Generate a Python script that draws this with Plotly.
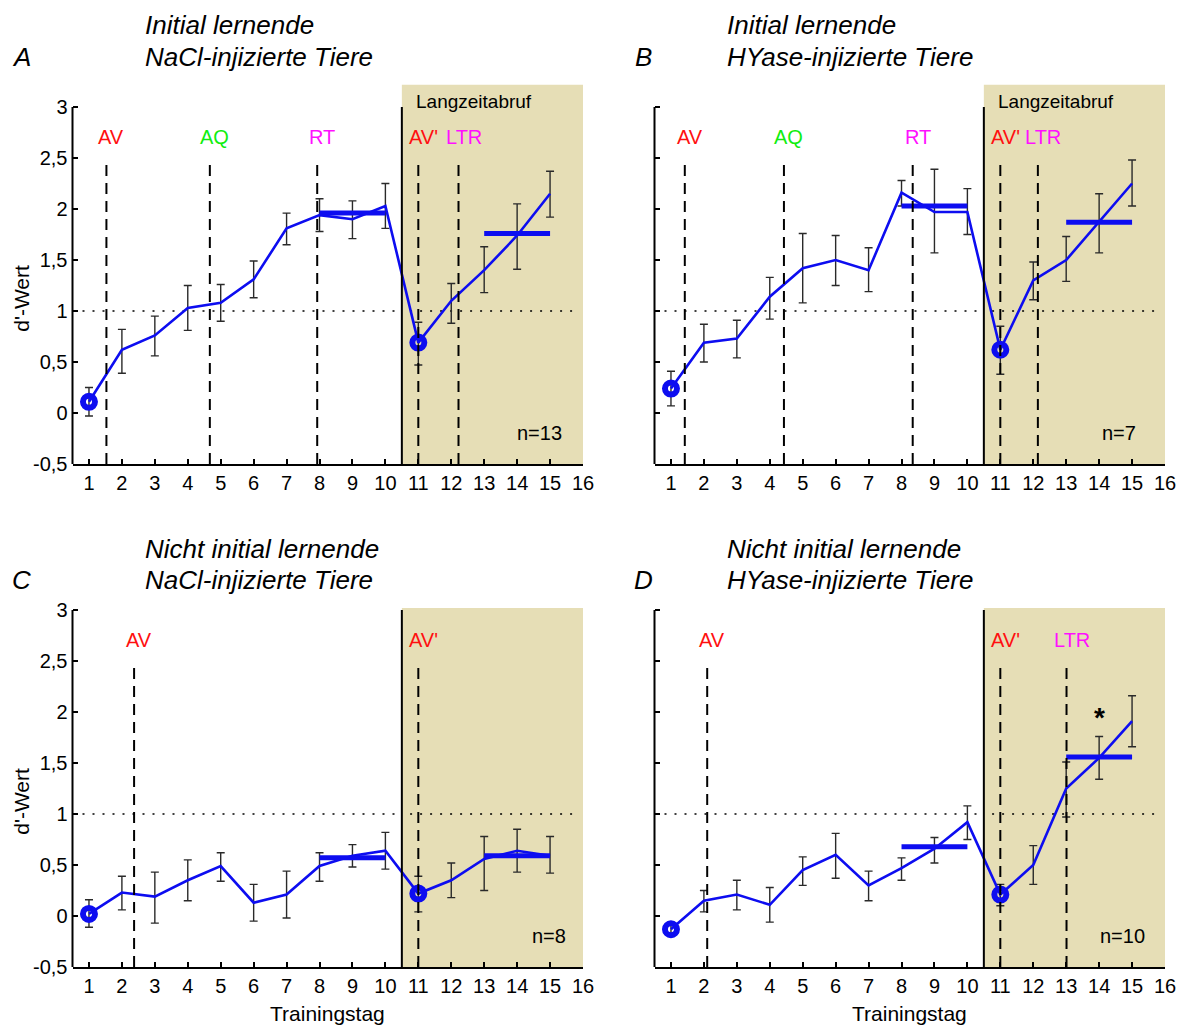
import plotly.graph_objects as go

# ---------------- data ----------------
days = list(range(1, 16))

A_mean = [0.11, 0.62, 0.76, 1.03, 1.08, 1.31, 1.81, 1.94, 1.90, 2.03, 0.69, 1.10, 1.40, 1.74, 2.15]
A_upper = [0.25, 0.82, 0.95, 1.25, 1.26, 1.49, 1.96, 2.10, 2.08, 2.25, 0.89, 1.27, 1.63, 2.05, 2.37]
A_lower = [-0.03, 0.39, 0.56, 0.81, 0.90, 1.13, 1.65, 1.78, 1.71, 1.81, 0.47, 0.88, 1.18, 1.41, 1.92]

B_mean = [0.24, 0.69, 0.73, 1.14, 1.42, 1.50, 1.40, 2.16, 1.97, 1.97, 0.62, 1.30, 1.50, 1.87, 2.25]
B_upper = [0.41, 0.87, 0.91, 1.33, 1.76, 1.74, 1.62, 2.28, 2.39, 2.20, 0.85, 1.48, 1.73, 2.15, 2.48]
B_lower = [0.07, 0.50, 0.54, 0.92, 1.08, 1.25, 1.19, 2.03, 1.57, 1.75, 0.38, 1.11, 1.29, 1.57, 2.03]

C_mean = [0.02, 0.23, 0.19, 0.35, 0.49, 0.13, 0.21, 0.49, 0.59, 0.64, 0.22, 0.35, 0.56, 0.64, 0.59]
C_upper = [0.16, 0.39, 0.43, 0.55, 0.62, 0.31, 0.44, 0.62, 0.70, 0.82, 0.39, 0.52, 0.78, 0.85, 0.78]
C_lower = [-0.11, 0.06, -0.07, 0.15, 0.34, -0.05, -0.02, 0.34, 0.48, 0.46, 0.04, 0.18, 0.25, 0.43, 0.42]

D_mean = [-0.13, 0.15, 0.21, 0.11, 0.45, 0.60, 0.30, 0.47, 0.66, 0.92, 0.21, 0.50, 1.25, 1.55, 1.91]
D_upper = [-0.08, 0.25, 0.35, 0.28, 0.58, 0.81, 0.44, 0.57, 0.77, 1.08, 0.31, 0.69, 1.51, 1.76, 2.16]
D_lower = [-0.18, 0.04, 0.06, -0.06, 0.30, 0.37, 0.15, 0.35, 0.52, 0.75, 0.10, 0.31, 0.97, 1.34, 1.66]

# mean of blocks (days 8-10 and 13-15)
block_days = [[8, 10], [13, 15]]
A_block = [1.96, 1.76]
B_block = [2.03, 1.87]
C_block = [0.57, 0.59]
D_block = [0.68, 1.56]

# highlighted days (circles)
circle_days = [1, 11]

# event markers (name, day)
A_events = [("AV", 1.53), ("AQ", 4.67), ("RT", 7.93), ("AV'", 11.0), ("LTR", 12.22)]
B_events = [("AV", 1.42), ("AQ", 4.43), ("RT", 8.34), ("AV'", 11.0), ("LTR", 12.14)]
C_events = [("AV", 2.37), ("AV'", 11.0)]
D_events = [("AV", 2.10), ("AV'", 11.0), ("LTR", 13.01)]

n_labels = ["n=13", "n=7", "n=8", "n=10"]
title1 = ["Initial lernende", "Initial lernende", "Nicht initial lernende", "Nicht initial lernende"]
title2 = ["NaCl-injizierte Tiere", "HYase-injizierte Tiere", "NaCl-injizierte Tiere", "HYase-injizierte Tiere"]
letters = ["A", "B", "C", "D"]

ytick_vals = [-0.5, 0, 0.5, 1, 1.5, 2, 2.5, 3]
ytick_text = ["-0,5", "0", "0,5", "1", "1,5", "2", "2,5", "3"]
xtick_vals = list(range(1, 17))

# ---------------- style ----------------
W, H = 1187, 1027
FONT = "Arial, Liberation Sans, sans-serif"
BLUE = "#0d0df0"
SHADE = "rgb(230,222,182)"
EVENT_COLORS = {"AV": "#ff1010", "AV'": "#ff1010", "AQ": "#10ee10", "RT": "#ff10ff", "LTR": "#ff10ff"}


def px2x(p):
    return p / W


def px2y(p):
    return 1 - p / H


panels = [
    dict(mean=A_mean, up=A_upper, lo=A_lower, block=A_block, events=A_events,
         xdom=[72.5, 583], ybot=464, ytop_val=3.22, ticklabels=True, nx=14.67,
         title_x=146, title_y=[25, 57], letter_x=21, lang=True, star=False, xtitle=False),
    dict(mean=B_mean, up=B_upper, lo=B_lower, block=B_block, events=B_events,
         xdom=[654.5, 1165], ybot=464, ytop_val=3.22, ticklabels=False, nx=14.6,
         title_x=728, title_y=[25, 57], letter_x=643, lang=True, star=False, xtitle=False),
    dict(mean=C_mean, up=C_upper, lo=C_lower, block=C_block, events=C_events,
         xdom=[72.5, 583], ybot=967, ytop_val=3.02, ticklabels=True, nx=14.97,
         title_x=146, title_y=[549, 580], letter_x=21, lang=False, star=False, xtitle=True),
    dict(mean=D_mean, up=D_upper, lo=D_lower, block=D_block, events=D_events,
         xdom=[654.5, 1165], ybot=967, ytop_val=3.02, ticklabels=False, nx=14.72,
         title_x=728, title_y=[549, 580], letter_x=643, lang=False, star=True, xtitle=True),
]
PX_PER_UNIT = 102.0

fig = go.Figure()
shapes = []
annotations = []
layout_axes = {}

for i, p in enumerate(panels):
    k = "" if i == 0 else str(i + 1)
    xr, yr = "x" + k, "y" + k
    ytop_px = p["ybot"] - (p["ytop_val"] + 0.5) * PX_PER_UNIT
    xdom = [px2x(p["xdom"][0]), px2x(p["xdom"][1])]
    ydom = [px2y(p["ybot"]), px2y(ytop_px)]

    layout_axes["xaxis" + k] = dict(
        domain=xdom, range=[0.5, 16], anchor=yr, tickmode="array", tickvals=xtick_vals,
        ticks="inside", ticklen=5, tickwidth=1.5, tickcolor="black",
        showline=True, linewidth=2, linecolor="black", showgrid=False, zeroline=False,
        tickfont=dict(family=FONT, size=20, color="black"), fixedrange=True, automargin=False,
    )
    layout_axes["yaxis" + k] = dict(
        domain=ydom, range=[-0.5, p["ytop_val"]], anchor=xr, tickmode="array",
        tickvals=ytick_vals, ticktext=ytick_text, ticks="inside", ticklen=5, tickwidth=1.5,
        tickcolor="black", showline=False, showgrid=False, zeroline=False,
        showticklabels=p["ticklabels"], tickfont=dict(family=FONT, size=20, color="black"),
        ticklabelstandoff=4, fixedrange=True, automargin=False,
    )

    # shaded long-term-retrieval region
    shapes.append(dict(type="rect", xref=xr, yref=yr, x0=10.5, x1=16, y0=-0.5, y1=p["ytop_val"],
                       fillcolor=SHADE, line=dict(width=0), layer="below"))
    # dotted line at d'=1 (two segments)
    for x0, x1 in [(0.5, 10.3), (10.75, 15.85)]:
        shapes.append(dict(type="line", xref=xr, yref=yr, x0=x0, x1=x1, y0=1, y1=1,
                           line=dict(color="black", width=1.5, dash="2px,8px"), layer="below"))
    # solid separator
    shapes.append(dict(type="line", xref=xr, yref=yr, x0=10.5, x1=10.5, y0=-0.5, y1=3,
                       line=dict(color="black", width=2), layer="above"))
    # left spine (paper refs to avoid clipping)
    shapes.append(dict(type="line", xref="paper", yref="paper", x0=xdom[0], x1=xdom[0],
                       y0=px2y(p["ybot"]), y1=px2y(p["ybot"] - 3.5 * PX_PER_UNIT),
                       line=dict(color="black", width=2)))
    # event dashed lines and labels
    for name, d in p["events"]:
        shapes.append(dict(type="line", xref=xr, yref=yr, x0=d, x1=d, y0=-0.5, y1=2.5,
                           line=dict(color="black", width=2, dash="11px,7px"), layer="above"))
        annotations.append(dict(xref=xr, yref=yr, x=d, y=2.71, text=name, showarrow=False,
                                xanchor="center", yanchor="middle", xshift=5,
                                font=dict(family=FONT, size=20, color=EVENT_COLORS[name])))

    # error bars
    err_plus = [u - m for u, m in zip(p["up"], p["mean"])]
    err_minus = [m - l for m, l in zip(p["mean"], p["lo"])]
    fig.add_trace(go.Scatter(
        x=days, y=p["mean"], mode="lines", xaxis=xr, yaxis=yr,
        line=dict(color=BLUE, width=2.6), showlegend=False,
        error_y=dict(type="data", symmetric=False, array=err_plus, arrayminus=err_minus,
                     color="#2a2a2a", thickness=1.4, width=4),
    ))
    # block means
    for (d0, d1), v in zip(block_days, p["block"]):
        fig.add_trace(go.Scatter(x=[d0, d1], y=[v, v], mode="lines", xaxis=xr, yaxis=yr,
                                 line=dict(color=BLUE, width=5), showlegend=False))
    # circles
    fig.add_trace(go.Scatter(
        x=circle_days, y=[p["mean"][d - 1] for d in circle_days], mode="markers",
        xaxis=xr, yaxis=yr, showlegend=False,
        marker=dict(symbol="circle-open", size=12, color=BLUE, line=dict(width=6, color=BLUE)),
    ))

    # texts
    annotations.append(dict(xref=xr, yref=yr, x=p["nx"], y=-0.2, text=n_labels[i], showarrow=False,
                            xanchor="center", yanchor="middle",
                            font=dict(family=FONT, size=20, color="black")))
    if p["lang"]:
        annotations.append(dict(xref=xr, yref=yr, x=10.86, y=3.05, text="Langzeitabruf",
                                showarrow=False, xanchor="left", yanchor="middle",
                                font=dict(family=FONT, size=19, color="black")))
    if p["star"]:
        annotations.append(dict(xref=xr, yref=yr, x=14, y=1.95, text="<b>*</b>", showarrow=False,
                                xanchor="center", yanchor="middle",
                                font=dict(family=FONT, size=28, color="black")))
    if p["ticklabels"]:
        annotations.append(dict(xref="paper", yref="paper", x=px2x(22),
                                y=px2y(p["ybot"] - 1.62 * PX_PER_UNIT), text="d'-Wert",
                                showarrow=False, textangle=-90, xanchor="center", yanchor="middle",
                                font=dict(family=FONT, size=21, color="black")))
    if p["xtitle"]:
        annotations.append(dict(xref="paper", yref="paper",
                                x=(xdom[0] + xdom[1]) / 2, y=px2y(1013), text="Trainingstag",
                                showarrow=False, xanchor="center", yanchor="middle",
                                font=dict(family=FONT, size=21, color="black")))
    annotations.append(dict(xref="paper", yref="paper", x=px2x(p["letter_x"]),
                            y=px2y(p["title_y"][1]), text="<i>" + letters[i] + "</i>",
                            showarrow=False, xanchor="center", yanchor="middle",
                            font=dict(family=FONT, size=26, color="black")))
    for t, ty in zip([title1[i], title2[i]], p["title_y"]):
        annotations.append(dict(xref="paper", yref="paper", x=px2x(p["title_x"] - 3), y=px2y(ty),
                                text="<i>" + t + "</i>", showarrow=False,
                                xanchor="left", yanchor="middle",
                                font=dict(family=FONT, size=26, color="black")))

fig.update_layout(
    width=W, height=H, margin=dict(l=0, r=0, t=0, b=0, pad=0, autoexpand=False),
    paper_bgcolor="white", plot_bgcolor="white",
    shapes=shapes, annotations=annotations, showlegend=False,
    **layout_axes,
)

# remove the default page margin so the figure fills the window exactly
fig.write_html(
    "out.html",
    config={"displayModeBar": False},
    post_script="document.documentElement.style.margin='0';document.body.style.margin='0';"
                "document.documentElement.style.overflow='hidden';document.body.style.overflow='hidden';",
)
